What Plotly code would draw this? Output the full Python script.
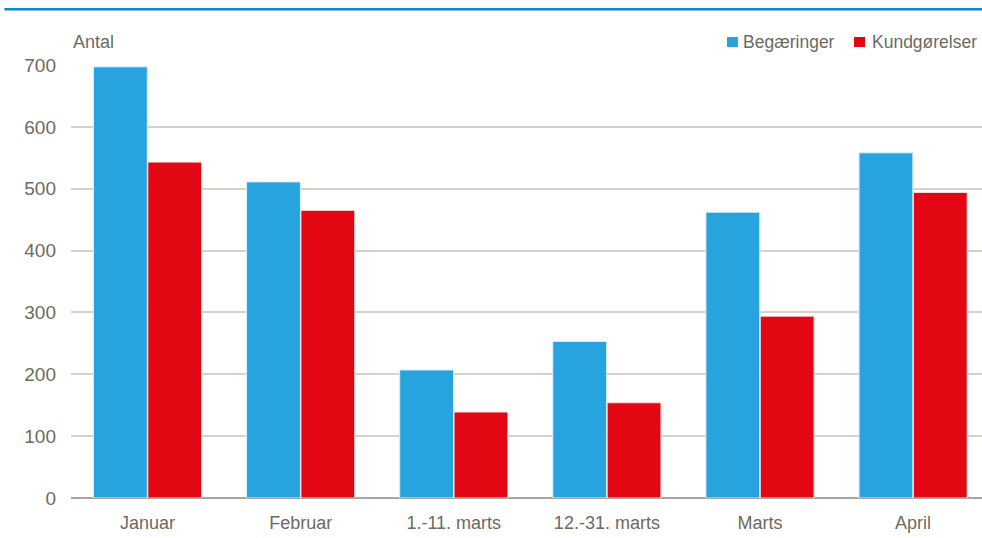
import plotly.graph_objects as go

categories = ["Januar", "Februar", "1.-11. marts", "12.-31. marts", "Marts", "April"]
begaeringer = [697, 511, 207, 253, 462, 558]
kundgoerelser = [543, 465, 139, 154, 294, 494]
y_ticks = [0, 100, 200, 300, 400, 500, 600, 700]
series_names = ["Begæringer", "Kundgørelser"]
series_colors = ["#27A3DD", "#E30613"]

fig = go.Figure()
fig.add_trace(go.Bar(x=categories, y=begaeringer, name=series_names[0],
                     marker=dict(color=series_colors[0], line=dict(color="#D8EEF8", width=1))))
fig.add_trace(go.Bar(x=categories, y=kundgoerelser, name=series_names[1],
                     marker=dict(color=series_colors[1], line=dict(color="#F5E0E0", width=1))))

txt = "#6B6B5E"
fnt = "Liberation Sans, Arial"

# custom legend (text + colour squares), positioned in paper coords
leg_text_x = [0.7355, 0.8771]
leg_sq_x = [(0.7201, 0.7321), (0.8595, 0.8716)]
annotations = [dict(text="Antal", xref="paper", yref="paper", x=0, y=1.052,
                    xanchor="left", yanchor="middle", showarrow=False,
                    font=dict(family=fnt, size=18, color=txt))]
shapes = [dict(type="line", xref="paper", yref="paper", x0=-0.073, x1=1.0,
               y0=1.129, y1=1.129, line=dict(color="#0A88CC", width=2.5))]
for name, col, tx, (sx0, sx1) in zip(series_names, series_colors, leg_text_x, leg_sq_x):
    annotations.append(dict(text=name, xref="paper", yref="paper", x=tx, y=1.052,
                            xanchor="left", yanchor="middle", showarrow=False,
                            font=dict(family=fnt, size=17.5, color=txt)))
    shapes.append(dict(type="rect", xref="paper", yref="paper", x0=sx0, x1=sx1,
                       y0=1.0416, y1=1.0647, fillcolor=col, line=dict(width=0)))

fig.update_layout(
    width=982, height=538,
    margin=dict(l=71, r=0, t=65, b=40),
    paper_bgcolor="white", plot_bgcolor="white",
    font=dict(family=fnt, size=18, color=txt),
    barmode="group", bargap=0.29, bargroupgap=0.01,
    showlegend=False,
    xaxis=dict(range=[-0.5, 5.45], showgrid=False, ticks="", showline=False,
               tickfont=dict(family=fnt, size=18, color=txt), ticklabelstandoff=12),
    yaxis=dict(range=[0, 700], tickvals=y_ticks, showgrid=True, gridcolor="#D4D3CB",
               gridwidth=2, zeroline=True, zerolinecolor="#A8A79E", zerolinewidth=1.5,
               ticks="", tickfont=dict(family=fnt, size=19, color=txt), ticklabelstandoff=14),
    annotations=annotations,
    shapes=shapes,
)

fig.write_html("out.html", config={"displayModeBar": False},
               post_script="document.body.style.margin='0';document.body.style.overflow='hidden';")
